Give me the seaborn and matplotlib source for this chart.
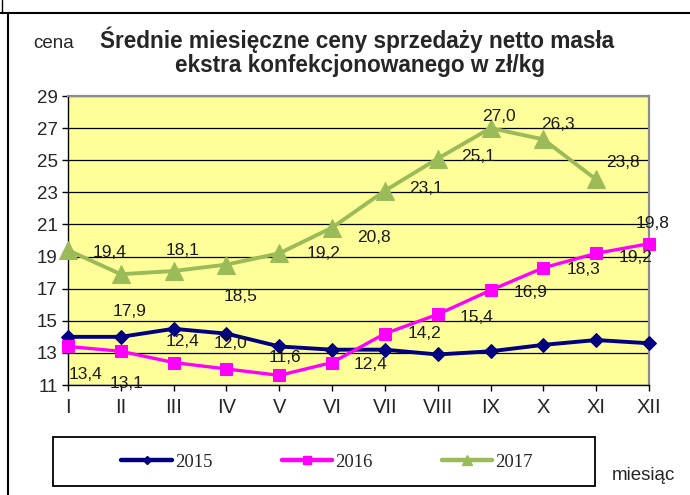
#!/usr/bin/env python3
import pandas as pd
import seaborn as sns
import matplotlib.pyplot as plt
from matplotlib import font_manager
from matplotlib.lines import Line2D
from matplotlib.patches import Rectangle

# --- data ---
months = ['I', 'II', 'III', 'IV', 'V', 'VI', 'VII', 'VIII', 'IX', 'X', 'XI', 'XII']
years = ['2015', '2016', '2017']
price_2015 = [14.0, 14.0, 14.5, 14.2, 13.4, 13.2, 13.2, 12.9, 13.1, 13.5, 13.8, 13.6]
price_2016 = [13.4, 13.1, 12.4, 12.0, 11.6, 12.4, 14.2, 15.4, 16.9, 18.3, 19.2, 19.8]
price_2017 = [19.4, 17.9, 18.1, 18.5, 19.2, 20.8, 23.1, 25.1, 27.0, 26.3, 23.8]
y_ticks = [11, 13, 15, 17, 19, 21, 23, 25, 27, 29]

# label placement (pixel offsets from the point, y up), as Excel left them
offsets_2016 = [(18, -28), (6, -32), (9, 21), (4, 25), (6, 18), (38, -2),
                (40, 0), (39, -3), (40, -2), (40, -2), (39, -4), (4, 20)]
offsets_2017 = [(42, -2), (9, -37), (9, 21), (14, -32), (44, 0), (42, -10),
                (41, 2), (40, 2), (8, 12), (15, 15), (27, 17)]

colors = {'2015': '#000080', '2016': '#FF00FF', '2017': '#9BBB59'}
markers = {'2015': 'D', '2016': 's', '2017': '^'}
msizes = {'2015': 7.5, '2016': 8.5, '2017': 13}
widths = {'2015': 2.8, '2016': 2.4, '2017': 2.8}

sns.set_style('white')
installed = {f.name for f in font_manager.fontManager.ttflist}
narrow = 'Liberation Sans Narrow' if 'Liberation Sans Narrow' in installed else 'Liberation Sans'
plt.rcParams['font.family'] = ['Liberation Sans', 'DejaVu Sans']

rows = []
for year, vals in zip(years, [price_2015, price_2016, price_2017]):
    for i, v in enumerate(vals):
        rows.append({'year': year, 'month': i, 'price': v})
df = pd.DataFrame(rows)

W, H = 690, 495
fig = plt.figure(figsize=(W / 100, H / 100), dpi=100)
ax = fig.add_axes([68 / W, 1 - 385 / H, (649 - 68) / W, (385 - 96) / H])
ax.set_facecolor('#FFFF99')

for year in years:
    sub = df[df.year == year]
    sns.lineplot(data=sub, x='month', y='price', ax=ax, color=colors[year],
                 marker=markers[year], markersize=msizes[year], lw=widths[year],
                 markeredgecolor=colors[year], clip_on=False, zorder=3)

for vals, offs in [(price_2016, offsets_2016), (price_2017, offsets_2017)]:
    for i, (v, (dx, dy)) in enumerate(zip(vals, offs)):
        ax.annotate(f'{v:.1f}'.replace('.', ','), (i, v), xytext=(dx, dy),
                    textcoords='offset pixels', ha='center', va='center',
                    fontsize=12.5, color='#1a1a1a', annotation_clip=False, zorder=5)

ax.set_xlim(0, 11)
ax.set_ylim(11, 29)
ax.set_xticks(range(len(months)))
ax.set_xticklabels(months, fontsize=16.5 if narrow != 'Liberation Sans' else 14.5,
                   family=narrow)
ax.set_yticks(y_ticks)
ax.set_yticklabels([str(t) for t in y_ticks], fontsize=13.5)
ax.set(xlabel=None, ylabel=None)
ax.tick_params(axis='both', direction='out', length=4.5, width=1, color='black',
               left=True, bottom=True, pad=3)
ax.tick_params(axis='x', pad=5)
ax.set_axisbelow(True)
ax.grid(axis='y', color='black', lw=0.9)
ax.grid(axis='x', visible=False)
for side in ['top', 'right']:
    ax.spines[side].set_color('#8c8c8c')
    ax.spines[side].set_linewidth(1.6)
for side in ['left', 'bottom']:
    ax.spines[side].set_color('black')
    ax.spines[side].set_linewidth(1)

# title, fitted to the width it has in the reference
title1 = fig.text(357 / W, 1 - 48 / H, 'Średnie miesięczne ceny sprzedaży netto masła',
                  ha='center', va='baseline', fontsize=16, fontweight='bold', family=narrow)
title2 = fig.text(360 / W, 1 - 72 / H, 'ekstra konfekcjonowanego w zł/kg',
                  ha='center', va='baseline', fontsize=16, fontweight='bold', family=narrow)
renderer = fig.canvas.get_renderer()
bb = title1.get_window_extent(renderer)
size = 16 * 515 / bb.width
title1.set_fontsize(size)
title2.set_fontsize(size)

fig.text(33 / W, 1 - 48 / H, 'cena', ha='left', va='baseline', fontsize=13.5)
fig.text(612 / W, 1 - 480 / H, 'miesiąc', ha='left', va='baseline', fontsize=13.5)

# legend in its own box
fig.add_artist(Rectangle((53 / W, 1 - 486 / H), (595 - 53) / W, (486 - 437) / H,
                         transform=fig.transFigure, fill=False, ec='black', lw=1.3))
handles = [Line2D([], [], color=colors[y], lw=3.2, marker=markers[y],
                  markersize=msizes[y] * 0.6, markeredgecolor=colors[y]) for y in years]
fig.legend(handles, years, loc='center', bbox_to_anchor=(327 / W, 1 - 462 / H), ncol=3,
           frameon=False, handlelength=2.7, handletextpad=0.15, columnspacing=3.7,
           prop={'family': 'Liberation Serif', 'size': 13.5})

# outer frame lines of the original sheet
ytop = 1 - 12.5 / H
fig.add_artist(Line2D([0, 1], [ytop, ytop], transform=fig.transFigure, color='black', lw=1.5))
fig.add_artist(Line2D([7.5 / W, 7.5 / W], [0, ytop], transform=fig.transFigure, color='black', lw=1.5))
fig.add_artist(Line2D([2 / W, 2 / W], [ytop, 1], transform=fig.transFigure, color='black', lw=1.0))

fig.savefig('out.png', dpi=100)
